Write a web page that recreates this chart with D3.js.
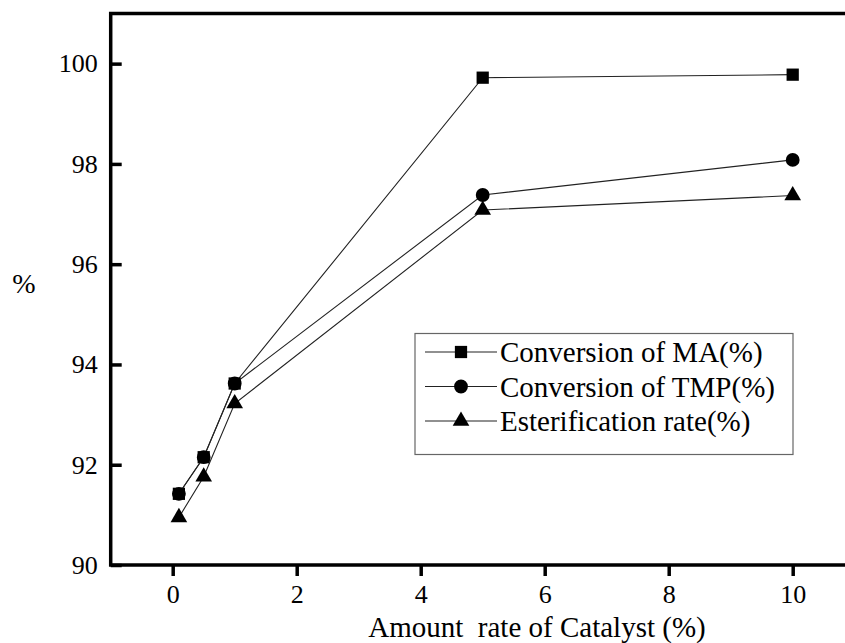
<!DOCTYPE html>
<html>
<head>
<meta charset="utf-8">
<script src="https://cdn.jsdelivr.net/npm/d3@7"></script>
<style>
  body { margin: 0; background: #fff; }
</style>
</head>
<body>
<div id="chart"></div>
<script>
// catalyst amounts (%)
var catalyst = [0.1, 0.5, 1, 5, 10];
var convMA = [91.42, 92.15, 93.62, 99.72, 99.78];
var convTMP = [91.42, 92.15, 93.62, 97.38, 98.08];
var esterRate = [90.95, 91.76, 93.22, 97.08, 97.37];
var xTicks = [0, 2, 4, 6, 8, 10];
var yTicks = [90, 92, 94, 96, 98, 100];
var seriesNames = ["Conversion of MA(%)", "Conversion of TMP(%)", "Esterification rate(%)"];

var width = 845, height = 643;
var serif = "'Liberation Serif', 'Times New Roman', Times, 'DejaVu Serif', serif";

var svg = d3.select("#chart")
    .append("svg")
    .attr("width", width)
    .attr("height", height)
    .attr("font-family", serif);

var x = d3.scaleLinear().domain([-1, 11]).range([110.7, 854.7]);
var y = d3.scaleLinear().domain([90, 101]).range([565, 13.5]);

var series = [
    { name: seriesNames[0], values: convMA, symbol: d3.symbolSquare, size: 150 },
    { name: seriesNames[1], values: convTMP, symbol: d3.symbolCircle, size: 150 },
    { name: seriesNames[2], values: esterRate, symbol: d3.symbolTriangle, size: 120 }
];

var line = d3.line()
    .x(function (d) { return x(d[0]); })
    .y(function (d) { return y(d[1]); });

series.forEach(function (s) {
    var pts = catalyst.map(function (c, i) { return [c, s.values[i]]; });
    svg.append("path")
        .datum(pts)
        .attr("fill", "none")
        .attr("stroke", "#222")
        .attr("stroke-width", 1.1)
        .attr("d", line);
    svg.selectAll(null)
        .data(pts)
        .enter().append("path")
        .attr("transform", function (d) { return "translate(" + x(d[0]) + "," + y(d[1]) + ")"; })
        .attr("d", d3.symbol().type(s.symbol).size(s.size))
        .attr("fill", "#000");
});

// axes
var xAxis = svg.append("g")
    .attr("transform", "translate(0," + y(90) + ")")
    .call(d3.axisBottom(x).tickValues(xTicks).tickSize(11).tickSizeOuter(0).tickPadding(9));
var yAxis = svg.append("g")
    .attr("transform", "translate(" + x(-1) + ",0)")
    .call(d3.axisLeft(y).tickValues(yTicks).tickSize(-11).tickSizeOuter(0).tickPadding(13));

[xAxis, yAxis].forEach(function (g) {
    g.attr("font-family", serif);
    g.select(".domain").remove();
    g.selectAll(".tick line").attr("stroke", "#000").attr("stroke-width", 3.5);
    g.selectAll(".tick text").style("font-size", "26px").style("font-family", serif).attr("fill", "#000");
});

// frame
svg.append("rect")
    .attr("x", x(-1))
    .attr("y", y(101))
    .attr("width", x(11) - x(-1))
    .attr("height", y(90) - y(101))
    .attr("fill", "none")
    .attr("stroke", "#000")
    .attr("stroke-width", 3.5);

// axis titles
svg.append("text")
    .attr("x", 537)
    .attr("y", 637)
    .attr("text-anchor", "middle")
    .style("font-size", "29px")
    .style("font-family", serif)
    .text("Amount\u00a0 rate of Catalyst (%)");

svg.append("text")
    .attr("x", 24)
    .attr("y", 293)
    .attr("text-anchor", "middle")
    .style("font-size", "28px")
    .style("font-family", serif)
    .text("%");

// legend
var legend = svg.append("g");
legend.append("rect")
    .attr("x", 415)
    .attr("y", 333.5)
    .attr("width", 378)
    .attr("height", 121)
    .attr("fill", "#fff")
    .attr("stroke", "#666")
    .attr("stroke-width", 1.2);

series.forEach(function (s, i) {
    var cy = 352 + i * 34.5;
    legend.append("line")
        .attr("x1", 425).attr("x2", 497)
        .attr("y1", cy).attr("y2", cy)
        .attr("stroke", "#222")
        .attr("stroke-width", 1.1);
    legend.append("path")
        .attr("transform", "translate(461," + cy + ")")
        .attr("d", d3.symbol().type(s.symbol).size(s.size))
        .attr("fill", "#000");
    legend.append("text")
        .attr("x", 500)
        .attr("y", cy + 10)
        .style("font-size", "29px")
        .style("font-family", serif)
        .text(s.name);
});
</script>
</body>
</html>
